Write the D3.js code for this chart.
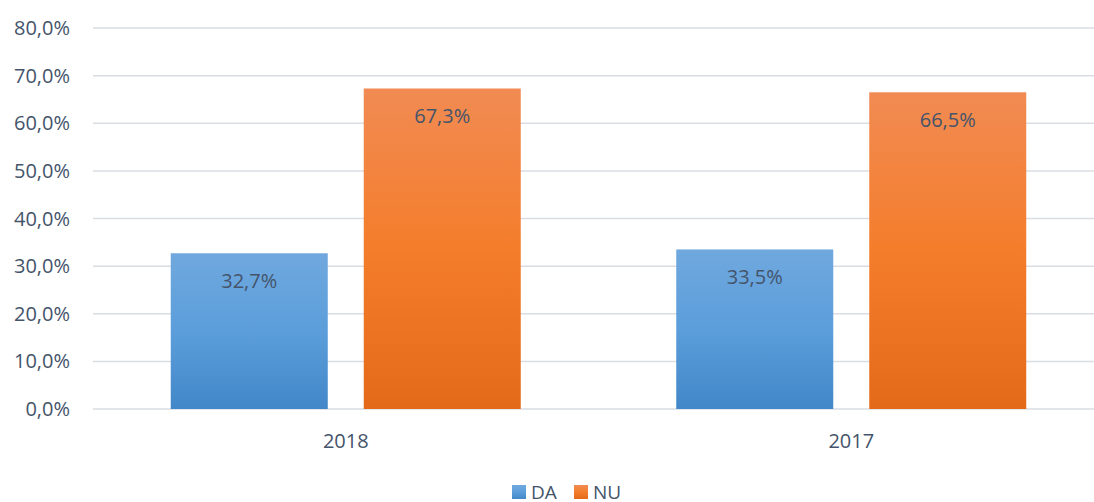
<!DOCTYPE html>
<html>
<head>
<meta charset="utf-8">
<script src="https://cdn.jsdelivr.net/npm/d3@7"></script>
<style>
  body { margin: 0; background: #fff; }
  text { font-family: "Open Sans", sans-serif; fill: #44546a; }
</style>
</head>
<body>
<div id="chart"></div>
<script>
// chart data
const years  = ["2018", "2017"];
const series = ["DA", "NU"];
const daValues = [32.7, 33.5];
const nuValues = [67.3, 66.5];
const yTicks = [0, 10, 20, 30, 40, 50, 60, 70, 80];

const width = 1094, height = 502;
const plot = { left: 93, right: 1104, top: 28, bottom: 409 };

const svg = d3.select("#chart")
  .append("svg")
    .attr("width", width)
    .attr("height", height);

// gradients, one per series
const defs = svg.append("defs");
const grads = {
  DA: ["#70a8de", "#5b9edb", "#4287c8"],
  NU: ["#f18b53", "#f47d2b", "#e36a18"]
};
series.forEach(function (s) {
  const g = defs.append("linearGradient")
    .attr("id", "grad-" + s)
    .attr("x1", 0).attr("y1", 0).attr("x2", 0).attr("y2", 1);
  g.append("stop").attr("offset", "0%").attr("stop-color", grads[s][0]);
  g.append("stop").attr("offset", "50%").attr("stop-color", grads[s][1]);
  g.append("stop").attr("offset", "100%").attr("stop-color", grads[s][2]);
});

const y = d3.scaleLinear()
  .domain([0, 80])
  .range([plot.bottom, plot.top]);

const x0 = d3.scaleBand()
  .domain(years)
  .range([plot.left, plot.right])
  .paddingInner(0.3076)
  .paddingOuter(0.1538);

const x1 = d3.scaleBand()
  .domain(series)
  .range([0, x0.bandwidth()])
  .paddingInner(0.1865)
  .paddingOuter(0);

const fmt = function (v) { return v.toFixed(1).replace(".", ",") + "%"; };

// gridlines
svg.append("g")
  .selectAll("line")
  .data(yTicks)
  .enter()
    .append("line")
    .attr("x1", plot.left)
    .attr("x2", width)
    .attr("y1", d => y(d))
    .attr("y2", d => y(d))
    .style("stroke", "#d9dde3")
    .style("stroke-width", "1.5px");

// y tick labels
svg.append("g")
  .selectAll("text")
  .data(yTicks)
  .enter()
    .append("text")
    .attr("x", 70)
    .attr("y", d => y(d))
    .attr("dy", "0.35em")
    .attr("text-anchor", "end")
    .style("font-size", "20px")
    .text(d => fmt(d));

// bars
const rows = years.map(function (yr, i) {
  return { year: yr, values: [
    { key: "DA", value: daValues[i] },
    { key: "NU", value: nuValues[i] }
  ]};
});

const groups = svg.append("g")
  .selectAll("g")
  .data(rows)
  .enter()
    .append("g")
    .attr("transform", d => "translate(" + x0(d.year) + ",0)");

groups.selectAll("rect")
  .data(d => d.values)
  .enter()
    .append("rect")
    .attr("x", d => x1(d.key))
    .attr("y", d => y(d.value))
    .attr("width", x1.bandwidth())
    .attr("height", d => y(0) - y(d.value))
    .attr("fill", d => "url(#grad-" + d.key + ")");

groups.selectAll("text")
  .data(d => d.values)
  .enter()
    .append("text")
    .attr("x", d => x1(d.key) + x1.bandwidth() / 2)
    .attr("y", d => y(d.value) + 28)
    .attr("dy", "0.35em")
    .attr("text-anchor", "middle")
    .style("font-size", "20px")
    .text(d => fmt(d.value));

// x labels
svg.append("g")
  .selectAll("text")
  .data(years)
  .enter()
    .append("text")
    .attr("x", d => x0(d) + x0.bandwidth() / 2)
    .attr("y", 441)
    .attr("dy", "0.35em")
    .attr("text-anchor", "middle")
    .style("font-size", "20px")
    .text(d => d);

// legend
const legendX = [512, 574];
const legend = svg.append("g")
  .selectAll("g")
  .data(series)
  .enter()
    .append("g")
    .attr("transform", (d, i) => "translate(" + legendX[i] + ",485)");

legend.append("rect")
  .attr("width", 14)
  .attr("height", 14)
  .attr("fill", d => "url(#grad-" + d + ")");

legend.append("text")
  .attr("x", 19)
  .attr("y", 14)
  .style("font-size", "19px")
  .text(d => d);
</script>
</body>
</html>
